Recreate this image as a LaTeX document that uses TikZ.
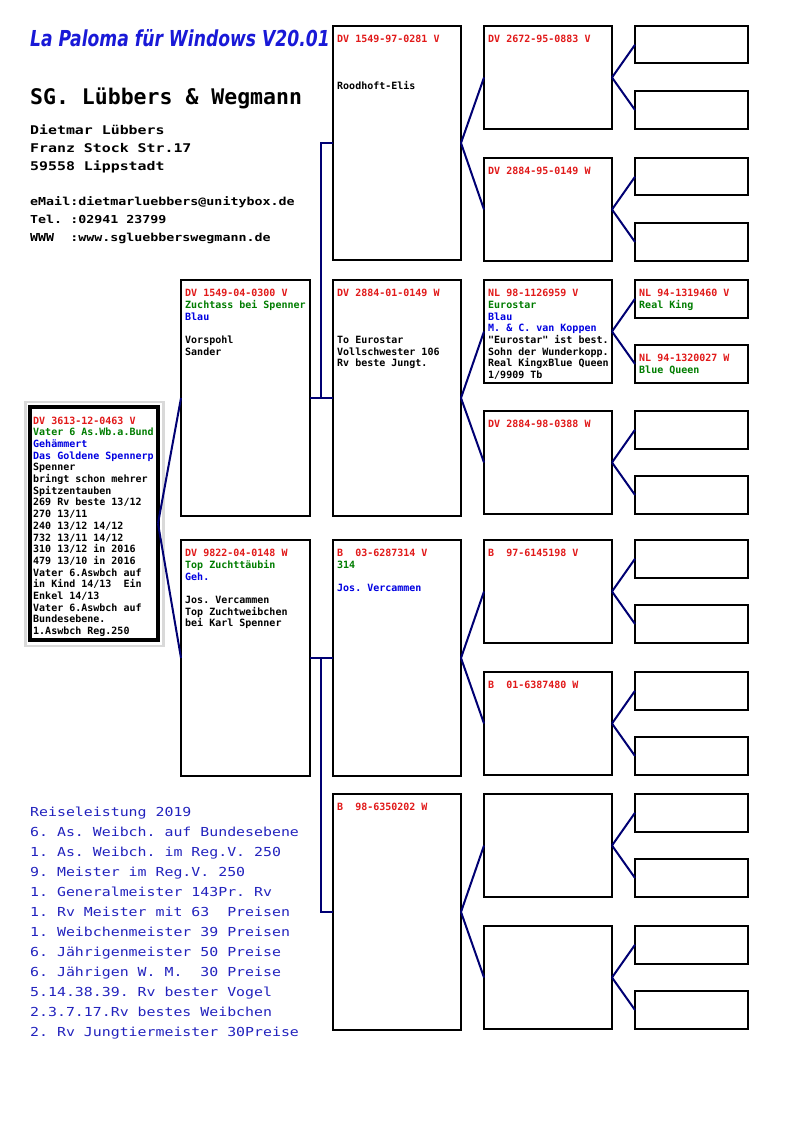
\documentclass[tikz,border=0pt]{standalone}
\usepackage{fontspec}
\usepackage{graphicx}
\newfontfamily\pmono{DejaVu Sans Mono}
\newfontfamily\ptitlefont{DejaVu Sans}
\usetikzlibrary{calc}
\definecolor{pred}{RGB}{225,25,25}
\definecolor{pgreen}{RGB}{0,125,0}
\definecolor{pblue}{RGB}{0,0,225}
\definecolor{pnavy}{RGB}{0,0,115}
\definecolor{tblue}{RGB}{35,35,190}
\definecolor{titleblue}{RGB}{25,25,215}
\newcommand\cR[1]{\textcolor{pred}{#1}}
\newcommand\cG[1]{\textcolor{pgreen}{#1}}
\newcommand\cB[1]{\textcolor{pblue}{#1}}
\newcommand\PB[5]{\node[pbox, minimum width={(#4)-(#2)}, minimum height={(#5)-(#3)}] (#1) at (#2,{#3}) {};}
\newcommand\PT[2]{\node[ptxt] (#1t) at ([shift={(4pt,-16.7pt)}]#1.north west) {\begin{tabular}[t]{@{}l@{}}#2\end{tabular}};}
\newcommand\Pair[3]{%
  \PB{#1a}{635}{#2}{748}{#2+37.5}
  \PB{#1b}{635}{#3-38}{748}{#3}
  \draw[conn] (#1.east) -- (#1a.west);
  \draw[conn] (#1.east) -- (#1b.west);}
\begin{document}
\frenchspacing
\begin{tikzpicture}[x=1pt,y=-1pt,
  pbox/.style={draw=black, line width=2pt, fill=white, inner sep=0pt, outer sep=0pt, anchor=north west},
  ptxt/.style={inner sep=0pt, anchor=base west, font=\pmono\bfseries\fontsize{10}{11.7}\selectfont},
  conn/.style={draw=pnavy, line width=2pt},
  hdr/.style={inner sep=0pt, anchor=base west}]
\useasboundingbox[fill=white] (0,0) rectangle (794,1123);

% header
\node[hdr, text=titleblue, font=\ptitlefont\bfseries\itshape\fontsize{22}{24}\selectfont] (title) at (30,47) {\scalebox{0.78}[1]{La Paloma für Windows V20.01}};
\node[hdr, font=\pmono\bfseries\fontsize{21.5}{24}\selectfont] (owner) at (30,105) {SG. Lübbers \& Wegmann};
\node[hdr, font=\pmono\bfseries\fontsize{12}{17.8}\selectfont] (addr) at (30,135) {\scalebox{1.24}[1]{\begin{tabular}[t]{@{}l@{}}Dietmar Lübbers\\Franz Stock Str.17\\59558 Lippstadt\end{tabular}}};
\node[hdr, font=\pmono\bfseries\fontsize{11}{17.8}\selectfont] (contact) at (30,206) {\scalebox{1.21}[1]{\begin{tabular}[t]{@{}l@{}}eMail:dietmarluebbers@unitybox.de\\Tel.~:02941 23799\\WWW~~:www.sgluebberswegmann.de\end{tabular}}};

% root
\node[draw=gray!30, line width=2.5pt, inner sep=0pt, outer sep=0pt, anchor=north west, minimum width=138, minimum height=244] (rshadow) at (25.5,402) {};
\node[draw=black, line width=4pt, fill=white, inner sep=0pt, outer sep=0pt, anchor=north west, minimum width=128, minimum height=233] (r) at (30,407) {};
\node[ptxt] (rt) at ([shift={(3pt,-17pt)}]r.north west) {\begin{tabular}[t]{@{}l@{}}\cR{DV 3613-12-0463 V}\\\cG{Vater 6 As.Wb.a.Bund}\\\cB{Gehämmert}\\\cB{Das Goldene Spennerp}\\Spenner\\bringt schon mehrer\\Spitzentauben\\269 Rv beste 13/12\\270 13/11\\240 13/12 14/12\\732 13/11 14/12\\310 13/12 in 2016\\479 13/10 in 2016\\Vater 6.Aswbch auf\\in Kind 14/13~~Ein\\Enkel 14/13\\Vater 6.Aswbch auf\\Bundesebene.\\1.Aswbch Reg.250\end{tabular}};

% generation 1
\PB{f}{181}{280}{310}{516}
\PT{f}{\cR{DV 1549-04-0300 V}\\\cG{Zuchtass bei Spenner}\\\cB{Blau}\\ \\Vorspohl\\Sander}
\PB{m}{181}{540}{310}{776}
\PT{m}{\cR{DV 9822-04-0148 W}\\\cG{Top Zuchttäubin}\\\cB{Geh.}\\ \\Jos. Vercammen\\Top Zuchtweibchen\\bei Karl Spenner}

% generation 2
\PB{ff}{333}{26}{461}{260}
\PT{ff}{\cR{DV 1549-97-0281 V}\\ \\ \\ \\Roodhoft-Elis}
\PB{fm}{333}{280}{461}{516}
\PT{fm}{\cR{DV 2884-01-0149 W}\\ \\ \\ \\To Eurostar\\Vollschwester 106\\Rv beste Jungt.}
\PB{mf}{333}{540}{461}{776}
\PT{mf}{\cR{B~~03-6287314 V}\\\cG{314}\\ \\\cB{Jos. Vercammen}}
\PB{mm}{333}{794}{461}{1030}
\PT{mm}{\cR{B~~98-6350202 W}}

% generation 3
\PB{fff}{484}{26}{612}{129}
\PT{fff}{\cR{DV 2672-95-0883 V}}
\PB{ffm}{484}{158}{612}{261}
\PT{ffm}{\cR{DV 2884-95-0149 W}}
\PB{fmf}{484}{280}{612}{383}
\PT{fmf}{\cR{NL 98-1126959 V}\\\cG{Eurostar}\\\cB{Blau}\\\cB{M. \& C. van Koppen}\\"Eurostar" ist best.\\Sohn der Wunderkopp.\\Real KingxBlue Queen\\1/9909 Tb}
\PB{fmm}{484}{411}{612}{514}
\PT{fmm}{\cR{DV 2884-98-0388 W}}
\PB{mff}{484}{540}{612}{643}
\PT{mff}{\cR{B~~97-6145198 V}}
\PB{mfm}{484}{672}{612}{775}
\PT{mfm}{\cR{B~~01-6387480 W}}
\PB{mmf}{484}{794}{612}{897}
\PB{mmm}{484}{926}{612}{1029}

% generation 4
\Pair{fff}{26}{129}
\Pair{ffm}{158}{261}
\Pair{fmf}{280}{383}
\Pair{fmm}{411}{514}
\Pair{mff}{540}{643}
\Pair{mfm}{672}{775}
\Pair{mmf}{794}{897}
\Pair{mmm}{926}{1029}
\PT{fmfa}{\cR{NL 94-1319460 V}\\\cG{Real King}}
\PT{fmfb}{\cR{NL 94-1320027 W}\\\cG{Blue Queen}}

% connectors
\draw[conn] (r.east) -- (f.west);
\draw[conn] (r.east) -- (m.west);
\draw[conn] (f.east) -- (fm.west);
\draw[conn] ($(f.east)+(11,0)$) |- (ff.west);
\draw[conn] (m.east) -- (mf.west);
\draw[conn] ($(m.east)+(11,0)$) |- (mm.west);
\draw[conn] (ff.east) -- (fff.west);
\draw[conn] (ff.east) -- (ffm.west);
\draw[conn] (fm.east) -- (fmf.west);
\draw[conn] (fm.east) -- (fmm.west);
\draw[conn] (mf.east) -- (mff.west);
\draw[conn] (mf.east) -- (mfm.west);
\draw[conn] (mm.east) -- (mmf.west);
\draw[conn] (mm.east) -- (mmm.west);

% performance list
\node[hdr, text=tblue, font=\pmono\fontsize{12.4}{20}\selectfont] (perf) at (30,816) {\scalebox{1.2}[1]{\begin{tabular}[t]{@{}l@{}}Reiseleistung 2019\\6. As. Weibch. auf Bundesebene\\1. As. Weibch. im Reg.V. 250\\9. Meister im Reg.V. 250\\1. Generalmeister 143Pr. Rv\\1. Rv Meister mit 63~~Preisen\\1. Weibchenmeister 39 Preisen\\6. Jährigenmeister 50 Preise\\6. Jährigen W. M.~~30 Preise\\5.14.38.39. Rv bester Vogel\\2.3.7.17.Rv bestes Weibchen\\2. Rv Jungtiermeister 30Preise\end{tabular}}};
\end{tikzpicture}
\end{document}
